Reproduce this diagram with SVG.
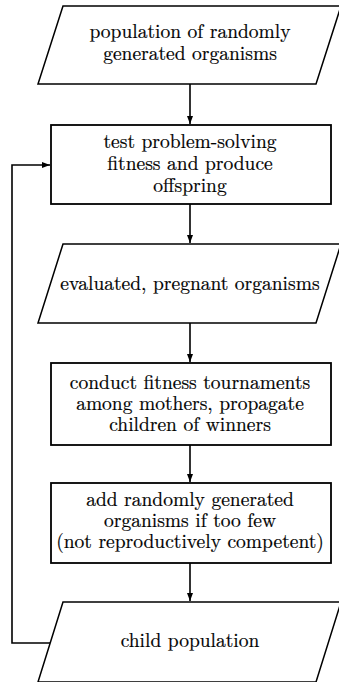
<svg xmlns="http://www.w3.org/2000/svg" width="339" height="682" viewBox="0 0 339 682">
<style>
.shape{fill:#fff;stroke:#000;stroke-width:1.8}
.para{fill:#fff;stroke:#000;stroke-width:1.5}
.label{font-family:'Latin Modern Roman',serif;font-size:19.5px;text-anchor:middle;fill:#000;stroke:#000;stroke-width:0.2}
.conn{fill:none;stroke:#000;stroke-width:1.6}
</style>
<defs>
<marker id="arr" markerWidth="8" markerHeight="6" refX="8" refY="3" orient="auto" markerUnits="userSpaceOnUse">
<path d="M0,0 L8,3 L0,6 Z" fill="#000"/>
</marker>
</defs>
<rect width="339" height="682" fill="#fff"/>
<g id="connectors">
<line class="conn" x1="190" y1="84" x2="190" y2="124" marker-end="url(#arr)"/>
<line class="conn" x1="190" y1="204" x2="190" y2="243" marker-end="url(#arr)"/>
<line class="conn" x1="190" y1="323" x2="190" y2="362" marker-end="url(#arr)"/>
<line class="conn" x1="190" y1="445" x2="190" y2="482" marker-end="url(#arr)"/>
<line class="conn" x1="190" y1="563" x2="190" y2="601" marker-end="url(#arr)"/>
<polyline class="conn" points="50,643 12,643 12,165 50,165" marker-end="url(#arr)"/>
</g>
<g id="n1">
<polygon class="para" points="63,6 341,6 316,84 38,84"/>
<text class="label" x="190" y="38">population of randomly</text>
<text class="label" x="190" y="60">generated organisms</text>
</g>
<g id="n2">
<rect class="shape" x="51" y="125" width="280" height="79"/>
<text class="label" x="190" y="148">test problem-solving</text>
<text class="label" x="190" y="170">fitness and produce</text>
<text class="label" x="190" y="192">offspring</text>
</g>
<g id="n3">
<polygon class="para" points="63,244 341,244 316,323 38,323"/>
<text class="label" x="190" y="290">evaluated, pregnant organisms</text>
</g>
<g id="n4">
<rect class="shape" x="51" y="363" width="280" height="82"/>
<text class="label" x="190" y="389">conduct fitness tournaments</text>
<text class="label" x="190" y="410">among mothers, propagate</text>
<text class="label" x="190" y="431">children of winners</text>
</g>
<g id="n5">
<rect class="shape" x="51" y="483" width="280" height="80"/>
<text class="label" x="190" y="506">add randomly generated</text>
<text class="label" x="190" y="527">organisms if too few</text>
<text class="label" x="190" y="548">(not reproductively competent)</text>
</g>
<g id="n6">
<polygon class="para" points="63,602 341,602 316,682 38,682"/>
<text class="label" x="190" y="647">child population</text>
</g>
</svg>
